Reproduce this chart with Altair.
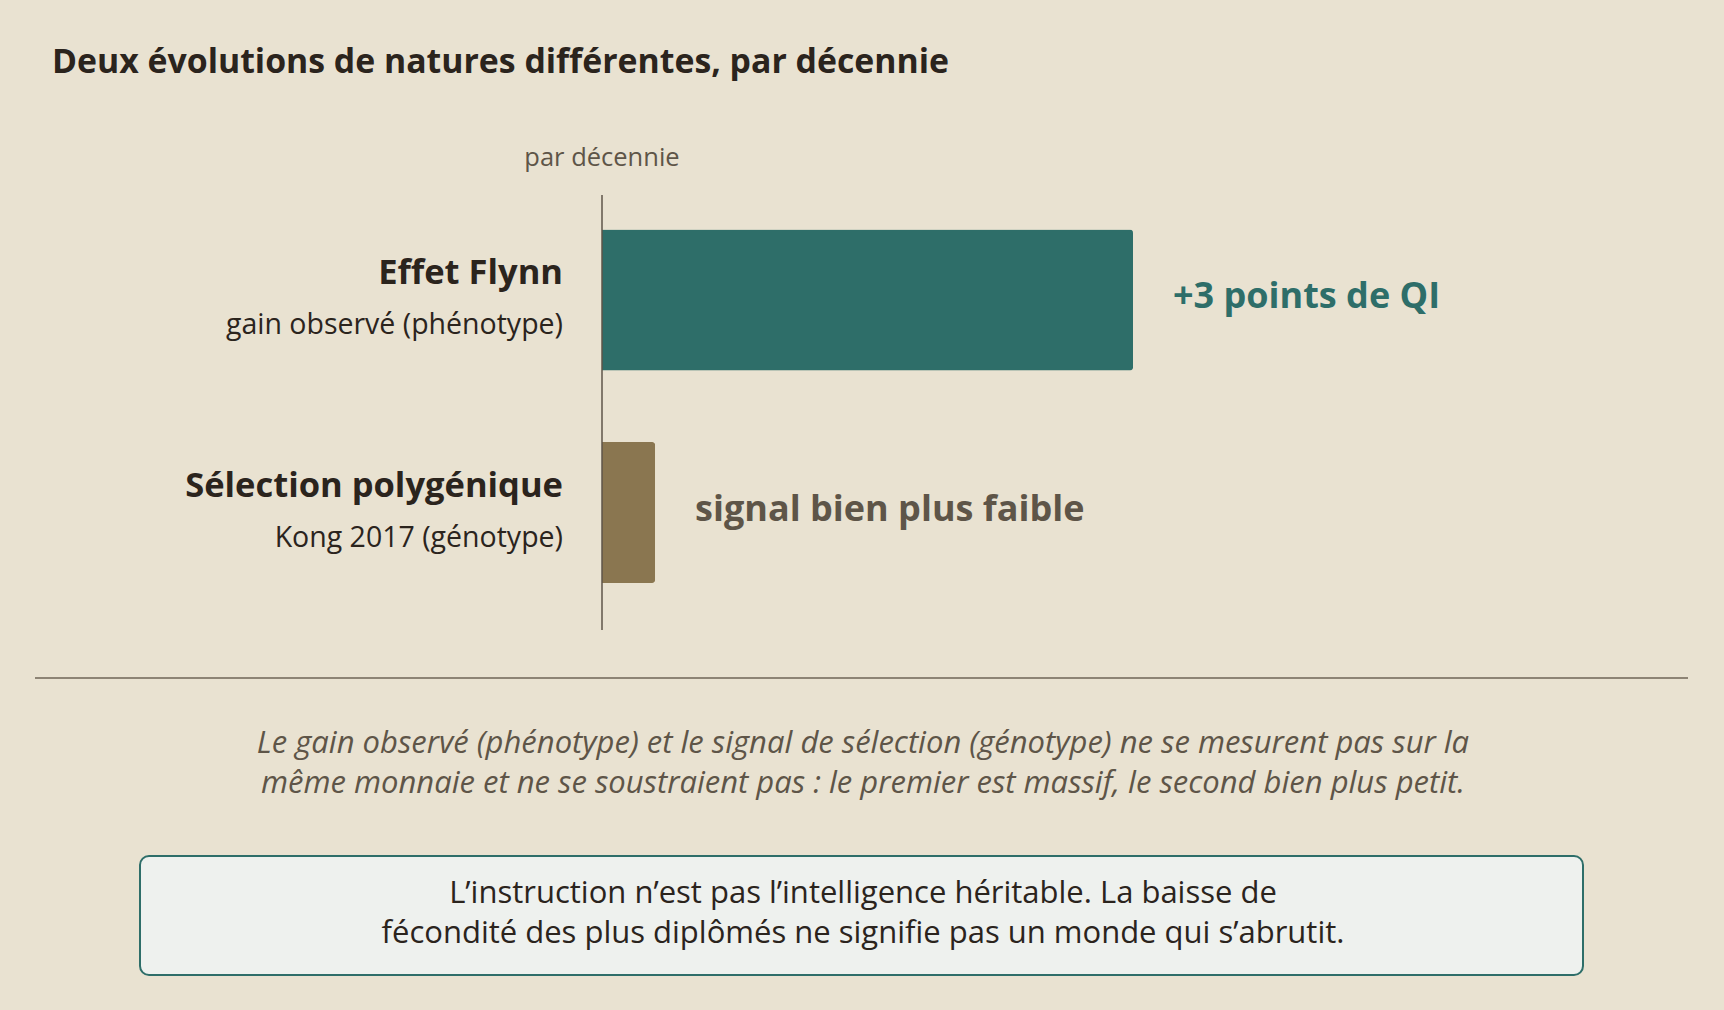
import altair as alt
import pandas as pd
import jinja2

# ---- data ----
categories = ["Effet Flynn", "Sélection polygénique"]
sublabels = ["gain observé (phénotype)", "Kong 2017 (génotype)"]
values = [3.0, 0.3]
value_labels = ["+3 points de QI", "signal bien plus faible"]
bar_colors = ["#2e6e69", "#8a7650"]
label_colors = ["#2e6e69", "#5e5548"]

title_text = "Deux évolutions de natures différentes, par décennie"
axis_caption = "par décennie"
note_lines = [
    "Le gain observé (phénotype) et le signal de sélection (génotype) ne se mesurent pas sur la",
    "même monnaie et ne se soustraient pas :  le premier est massif, le second bien plus petit.",
]
box_lines = [
    "L’instruction n’est pas l’intelligence héritable.  La baisse de",
    "fécondité des plus diplômés ne signifie pas un monde qui s’abrutit.",
]

BG = "#e9e2d1"
DARK = "#2b241d"
GRAY = "#5e5548"
TEAL = "#2e6e69"
FONT = "Open Sans"

df = pd.DataFrame({
    "cat": categories,
    "sub": sublabels,
    "val": values,
    "lab": value_labels,
})

W, H = 1708, 994

xs = alt.Scale(domain=[0, 3], range=[594, 1125])
ys = alt.Scale(domain=categories, range=[185.75, 610.75], paddingInner=0.3365, paddingOuter=0.168)

base = alt.Chart(df)

bars = base.mark_bar(cornerRadiusEnd=3).encode(
    x=alt.X("val:Q", scale=xs, axis=None),
    y=alt.Y("cat:N", scale=ys, axis=None),
    color=alt.Color("cat:N", scale=alt.Scale(domain=categories, range=bar_colors), legend=None),
)

cat_text = base.mark_text(align="right", baseline="alphabetic", font=FONT, fontWeight="bold",
                          fontSize=34.5, color=DARK, dy=-15.5).encode(
    x=alt.value(555),
    y=alt.Y("cat:N", scale=ys, axis=None),
    text="cat:N",
)

sub_text = base.mark_text(align="right", baseline="alphabetic", font=FONT,
                          fontSize=28.5, color=DARK, dy=34).encode(
    x=alt.value(555),
    y=alt.Y("cat:N", scale=ys, axis=None),
    text="sub:N",
)

val_text = base.mark_text(align="left", baseline="alphabetic", font=FONT, fontWeight="bold",
                          fontSize=36, dx=40, dy=8.5).encode(
    x=alt.X("val:Q", scale=xs, axis=None),
    y=alt.Y("cat:N", scale=ys, axis=None),
    text="lab:N",
    color=alt.Color("lab:N", scale=alt.Scale(domain=value_labels, range=label_colors), legend=None),
)

axis_line = alt.Chart(pd.DataFrame({"z": [0]})).mark_rule(color=GRAY, strokeWidth=1.5).encode(
    x=alt.X("z:Q", scale=xs, axis=None),
    y=alt.value(187),
    y2=alt.value(622),
)

axis_cap = alt.Chart(pd.DataFrame({"z": [0]})).mark_text(
    align="center", baseline="alphabetic", font=FONT, fontSize=25.5, color=GRAY
).encode(
    x=alt.X("z:Q", scale=xs, axis=None),
    y=alt.value(158),
    text=alt.value(axis_caption),
)

title = alt.Chart(pd.DataFrame({"t": [title_text]})).mark_text(
    align="left", baseline="alphabetic", font=FONT, fontWeight="bold", fontSize=33.8, color=DARK
).encode(
    x=alt.value(44),
    y=alt.value(65),
    text="t:N",
)

sep = alt.Chart(pd.DataFrame({"z": [0]})).mark_rule(color="#6e6456", strokeWidth=1.5).encode(
    x=alt.value(27), x2=alt.value(1680), y=alt.value(670),
)

note = alt.Chart(pd.DataFrame({"z": [0]})).mark_text(
    align="center", baseline="alphabetic", font=FONT, fontStyle="italic", fontSize=31,
    color=GRAY, lineHeight=40
).encode(
    x=alt.value(855),
    y=alt.value(744.5),
    text=alt.value(note_lines),
)

box = alt.Chart(pd.DataFrame({"z": [0]})).mark_rect(
    fill="#eef1ee", stroke=TEAL, strokeWidth=2, cornerRadius=9
).encode(
    x=alt.value(132), x2=alt.value(1575), y=alt.value(848), y2=alt.value(967),
)

box_text = alt.Chart(pd.DataFrame({"z": [0]})).mark_text(
    align="center", baseline="alphabetic", font=FONT, fontSize=31, color=DARK, lineHeight=40
).encode(
    x=alt.value(855),
    y=alt.value(895),
    text=alt.value(box_lines),
)

chart = alt.layer(
    title, axis_cap, bars, axis_line, cat_text, sub_text, val_text, sep, note, box, box_text
).resolve_scale(color="independent").properties(
    width=W, height=H,
    autosize=alt.AutoSizeParams(type="fit", contains="padding"),
    padding=0,
    background=BG,
).configure_view(stroke=None)

page_template = jinja2.Template("""<!DOCTYPE html>
<html>
<head>
  <meta charset="utf-8">
  <style>
    html, body { background: """ + BG + """; }
    #{{ output_div }}.vega-embed { width: 100%; display: flex; }
  </style>
  <script type="text/javascript" src="{{ base_url }}/vega@{{ vega_version }}"></script>
  <script type="text/javascript" src="{{ base_url }}/vega-lite@{{ vegalite_version }}"></script>
  <script type="text/javascript" src="{{ base_url }}/vega-embed@{{ vegaembed_version }}"></script>
</head>
<body>
  <div id="{{ output_div }}"></div>
  <script type="text/javascript">
    (function(vegaEmbed) {
      var spec = {{ spec }};
      var embedOpt = {{ embed_options }};
      vegaEmbed("#{{ output_div }}", spec, embedOpt).catch(function(err) {
        document.getElementById("{{ output_div }}").innerHTML = String(err);
      });
    })(vegaEmbed);
  </script>
</body>
</html>
""")

chart.save("out.html", embed_options={"renderer": "svg", "actions": False}, template=page_template)
